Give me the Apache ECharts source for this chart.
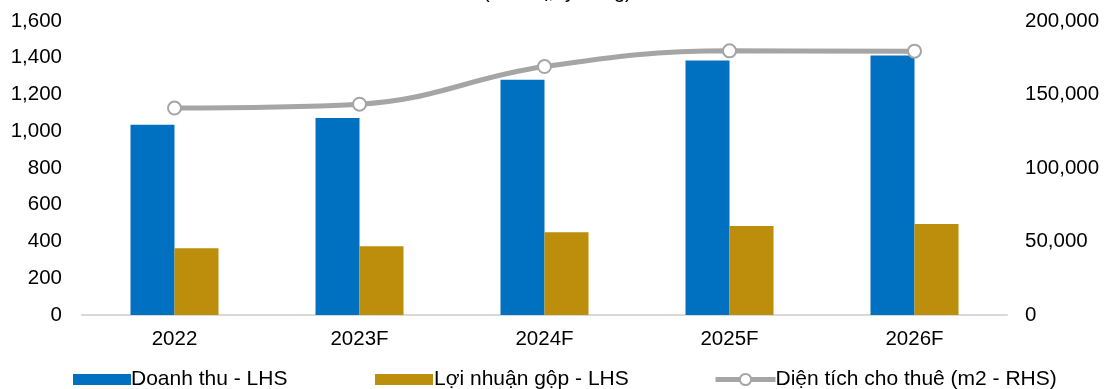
<!DOCTYPE html>
<html>
<head>
<meta charset="utf-8">
<script src="https://cdn.jsdelivr.net/npm/echarts@6/dist/echarts.min.js"></script>
<style>
  html, body { margin: 0; padding: 0; background: #fff; }
  #chart { width: 1119px; height: 389px; }
</style>
</head>
<body>
<div id="chart"></div>
<script>
// dữ liệu
const years = ['2022', '2023F', '2024F', '2025F', '2026F'];
const doanhThu = [1035, 1072, 1280, 1385, 1412];
const loiNhuanGop = [363, 374, 450, 484, 495];
const dienTich = [140800, 143400, 169000, 179700, 179500];
const leftTicks = [0, 200, 400, 600, 800, 1000, 1200, 1400, 1600];
const rightTicks = [0, 50000, 100000, 150000, 200000];

const chart = echarts.init(document.getElementById('chart'));

const font = 'Liberation Sans, Arial, sans-serif';
const fmt = v => v.toLocaleString('en-US');
const axisFont = 20.5;
const legendFont = 21;

const option = {
    animation: false,
    textStyle: { fontFamily: font },
    title: {
        text: '(Đơn vị, tỷ đồng)',
        left: 478,
        top: -23,
        textStyle: { fontSize: 20, fontWeight: 'normal', color: '#000', fontFamily: font }
    },
    legend: [
        {
            data: ['Doanh thu - LHS'],
            left: 68, top: 364,
            icon: 'rect',
            itemWidth: 58, itemHeight: 11,
            textStyle: { fontSize: legendFont, color: '#000', padding: [0, 0, 0, -5] }
        },
        {
            data: ['Lợi nhuận gộp - LHS'],
            left: 370, top: 364,
            icon: 'rect',
            itemWidth: 58, itemHeight: 11,
            textStyle: { fontSize: legendFont, color: '#000', padding: [0, 0, 0, -4] }
        },
        {
            data: ['Diện tích cho thuê (m2 - RHS)'],
            left: 708, top: 364,
            itemWidth: 60, itemHeight: 14,
            lineStyle: { width: 5 },
            textStyle: { fontSize: legendFont, color: '#000', padding: [0, 0, 0, -5] }
        }
    ],
    grid: { left: 82, right: 112, top: 21, bottom: 74 },
    xAxis: {
        type: 'category',
        data: years,
        axisTick: { show: false },
        axisLine: { lineStyle: { color: '#d9d9d9', width: 2 } },
        axisLabel: { fontSize: axisFont, color: '#000', margin: 14 }
    },
    yAxis: [
        {
            type: 'value',
            min: leftTicks[0],
            max: leftTicks[leftTicks.length - 1],
            interval: 200,
            splitLine: { show: false },
            axisLine: { show: false },
            axisTick: { show: false },
            axisLabel: { fontSize: axisFont, color: '#000', margin: 20, formatter: fmt }
        },
        {
            type: 'value',
            min: rightTicks[0],
            max: rightTicks[rightTicks.length - 1],
            interval: 50000,
            splitLine: { show: false },
            axisLine: { show: false },
            axisTick: { show: false },
            axisLabel: { fontSize: axisFont, color: '#000', margin: 18, formatter: fmt }
        }
    ],
    series: [
        {
            name: 'Doanh thu - LHS',
            type: 'bar',
            data: doanhThu,
            barWidth: 44,
            barGap: '0%',
            itemStyle: { color: '#0070c0' }
        },
        {
            name: 'Lợi nhuận gộp - LHS',
            type: 'bar',
            data: loiNhuanGop,
            barWidth: 44,
            itemStyle: { color: '#bc8e0b' }
        },
        {
            name: 'Diện tích cho thuê (m2 - RHS)',
            type: 'line',
            yAxisIndex: 1,
            data: dienTich,
            smooth: 0.4,
            symbol: 'circle',
            symbolSize: 13,
            lineStyle: { color: '#a5a5a5', width: 5 },
            itemStyle: { color: '#fff', borderColor: '#a5a5a5', borderWidth: 2 }
        }
    ]
};

chart.setOption(option);
</script>
</body>
</html>
